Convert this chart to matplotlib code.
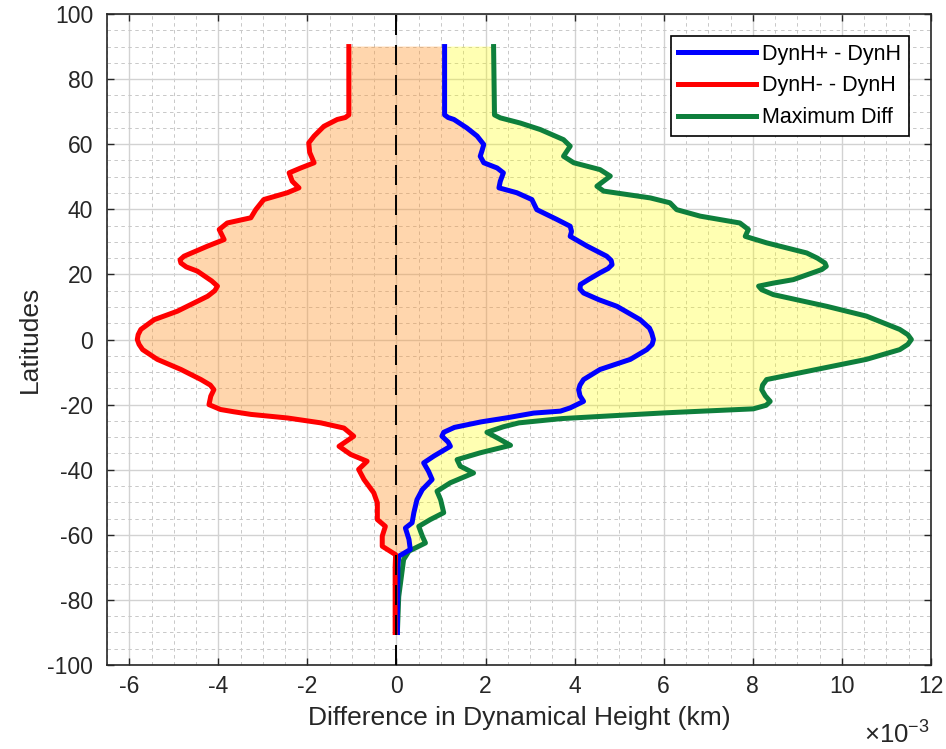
import matplotlib
matplotlib.use("Agg")
import matplotlib.pyplot as plt
import numpy as np
from matplotlib.ticker import MultipleLocator

plt.rcParams['font.family'] = ['Liberation Sans', 'DejaVu Sans']
plt.rcParams['mathtext.fontset'] = 'custom'
plt.rcParams['mathtext.rm'] = 'Liberation Sans'
plt.rcParams['axes.unicode_minus'] = False
plt.rcParams['lines.scale_dashes'] = False

# differences in dynamical height, units of 1e-3 km
lat_plus = [90, 69, 68.2, 67.6, 65, 62.5, 59.9, 58, 56.3, 54.3, 52.7, 51.2, 48.6, 46.6, 45.1, 43, 39.9,
            36.9, 34.8, 33.2, 31.7, 28.7, 25.6, 24.3, 23, 21.8, 20.5, 18.5, 16.9, 15.5, 14.3, 12.2, 10.2,
            6.1, 3.5, 2, 0, -1.5, -3.1, -6.1, -9.2, -12.3, -14, -15.4, -17.3, -19, -21, -22, -22.6, -24,
            -25.3, -27, -28.5, -29.7, -31.5, -32.8, -35.8, -37.9, -40.5, -43, -46.1, -49.2, -53.2,
            -56.3, -57.9, -61.4, -64.5, -66.6, -70, -90]
dyn_plus = [1.08, 1.08, 1.16, 1.29, 1.58, 1.81, 1.96, 1.92, 1.88, 1.96, 2.26, 2.40, 2.33, 2.30, 2.70, 3.04, 3.15,
            3.60, 3.90, 3.93, 3.90, 4.28, 4.72, 4.82, 4.84, 4.75, 4.57, 4.32, 4.13, 4.12, 4.20, 4.55, 4.95,
            5.47, 5.68, 5.73, 5.77, 5.74, 5.62, 5.25, 4.57, 4.20, 4.12, 4.09, 4.12, 4.20, 3.90, 3.68, 3.08, 2.50,
            1.90, 1.30, 1.06, 1.02, 1.16, 1.21, 0.84, 0.61, 0.72, 0.80, 0.58, 0.46, 0.39,
            0.35, 0.20, 0.28, 0.31, 0.05, 0.03, 0.02]

lat_minus = [90, 69, 68.2, 67.6, 65.5, 62.5, 60.4, 57.5, 54.3, 52.7, 51.2, 48.6, 46.6, 45.1, 43, 39.9,
             37.4, 35.8, 33.8, 30.7, 28.7, 25.6, 24.5, 23.5, 22.3, 21, 18, 16.4, 15, 13.3, 11, 8.7, 6.1,
             3.1, 1.5, 0, -1.5, -3.1, -6.1, -9.2, -12.3, -14, -15.4, -17.4, -20, -21.5, -22.2, -23,
             -24.1, -25.6, -27.2, -29.7, -32.8, -35.3, -37.4, -39.9, -43, -47.1, -50.2, -55.3,
             -57.4, -60.4, -63.5, -66.1, -70, -90]
dyn_minus = [-1.07, -1.07, -1.15, -1.33, -1.63, -1.85, -1.97, -1.95, -1.85, -2.15, -2.41, -2.34, -2.19, -2.45, -2.98, -3.16,
             -3.27, -3.80, -3.98, -3.87, -4.24, -4.77, -4.86, -4.84, -4.72, -4.47, -4.15, -4.02, -4.08, -4.24, -4.58, -4.92, -5.44,
             -5.74, -5.80, -5.82, -5.78, -5.70, -5.37, -4.84, -4.39, -4.18, -4.10, -4.17, -4.21, -3.95, -3.65, -3.27,
             -2.45, -1.70, -1.18, -0.96, -1.29, -1.03, -0.66, -0.85, -0.73, -0.51, -0.43, -0.43,
             -0.25, -0.32, -0.32, -0.02, -0.03, -0.03]

lat_max = [90, 69, 68.1, 66.5, 64.5, 61.4, 59.4, 56.3, 54.3, 52.2, 50.2, 47.1, 45.6, 43.5, 42,
           39.9, 37.9, 35.8, 33.8, 31.7, 29.7, 26.6, 25, 23.5, 22.5, 21.5, 18.4, 17.3, 16.4, 15.3, 13.8,
           10.2, 7.2, 3.1, 1.5, 0, -1.5, -3.1, -6.1, -9.2, -12.3, -14, -15.4, -17.3, -19, -20.2, -21.3,
           -22.5, -23.3, -24.3, -25.6, -26.8, -28.5, -30.5, -32.5, -34.8, -36.9, -38.9, -41, -44,
           -46.6, -49.2, -53.2, -55.3, -57.4, -60.4, -62.5, -65, -67.6, -79, -90]
max_diff = [2.18, 2.20, 2.33, 2.78, 3.23, 3.75, 3.90, 3.75, 3.98, 4.57, 4.80, 4.50, 4.65, 5.70, 6.14,
            6.29, 6.82, 7.71, 7.90, 7.83, 8.31, 9.21, 9.45, 9.62, 9.65, 9.55, 8.91, 8.45, 8.13, 8.20, 8.46,
            9.66, 10.55, 11.30, 11.48, 11.56, 11.48, 11.30, 10.55, 9.43, 8.31, 8.22, 8.20, 8.28, 8.39, 8.30, 8.01,
            6.07, 5.00, 3.70, 2.75, 2.40, 2.03, 2.30, 2.56, 1.88, 1.36, 1.43, 1.73, 1.21,
            0.91, 0.99, 1.06, 0.76, 0.50, 0.58, 0.65, 0.28, 0.16, 0.05, 0.02]

fig = plt.figure(figsize=(9.46, 7.49), dpi=100)
ax = fig.add_axes([0.1131, 0.1121, 0.8710, 0.8692])

# shaded areas: between minus and plus, and between plus and max
ax.fill(np.concatenate([dyn_minus, dyn_plus[::-1]]),
        np.concatenate([lat_minus, lat_plus[::-1]]),
        color='#FF9933', alpha=0.4, lw=0, zorder=2)
ax.fill(np.concatenate([dyn_plus, max_diff[::-1]]),
        np.concatenate([lat_plus, lat_max[::-1]]),
        color='#FFFF00', alpha=0.3, lw=0, zorder=2)

ax.plot(dyn_plus, lat_plus, color='#0000FF', lw=3.6, solid_joinstyle='round',
        label='DynH+ - DynH', zorder=4)
ax.plot(dyn_minus, lat_minus, color='#FF0000', lw=3.6, solid_joinstyle='round',
        label='DynH- - DynH', zorder=4)
ax.plot(max_diff, lat_max, color='#0E7F3C', lw=3.6, solid_joinstyle='round',
        label='Maximum Diff', zorder=3)

ax.axvline(0, color='black', lw=1.4, dashes=(14.4, 7.2), zorder=5)

ax.set_xlim(-6.5, 12)
ax.set_ylim(-100, 100)
ax.xaxis.set_major_locator(MultipleLocator(2))
ax.xaxis.set_minor_locator(MultipleLocator(0.5))
ax.yaxis.set_major_locator(MultipleLocator(20))
ax.yaxis.set_minor_locator(MultipleLocator(5))

ax.set_axisbelow(True)
ax.grid(which='major', color='#d2d2d2', lw=1.0)
ax.grid(which='minor', color='#c8c8c8', lw=0.7, dashes=(2.5, 2.5))

ax.tick_params(which='major', direction='in', length=5, width=1, top=True, right=True,
               labelsize=16.5, colors='#262626', pad=7)
ax.tick_params(axis='y', pad=10)
ax.tick_params(which='minor', length=0)
for s in ax.spines.values():
    s.set_color('#262626')
    s.set_linewidth(1.2)

ax.set_xlabel('Difference in Dynamical Height (km)', fontsize=19, color='#262626', labelpad=6)
ax.set_ylabel('Latitudes', fontsize=19, color='#262626', labelpad=4)
fig.text(864 / 946, 1 - 744 / 749, r'$\mathregular{\times10^{-3}}$', fontsize=18.5,
         color='#262626', ha='left', va='baseline')

leg = ax.legend(loc='upper right', bbox_to_anchor=(0.973, 0.966), borderaxespad=0,
                fontsize=15.5, fancybox=False, framealpha=1, edgecolor='black',
                handlelength=3.6, handletextpad=0.3, labelspacing=0.5, borderpad=0.35)
leg.get_frame().set_linewidth(1.2)

fig.savefig('out.png', dpi=100)
